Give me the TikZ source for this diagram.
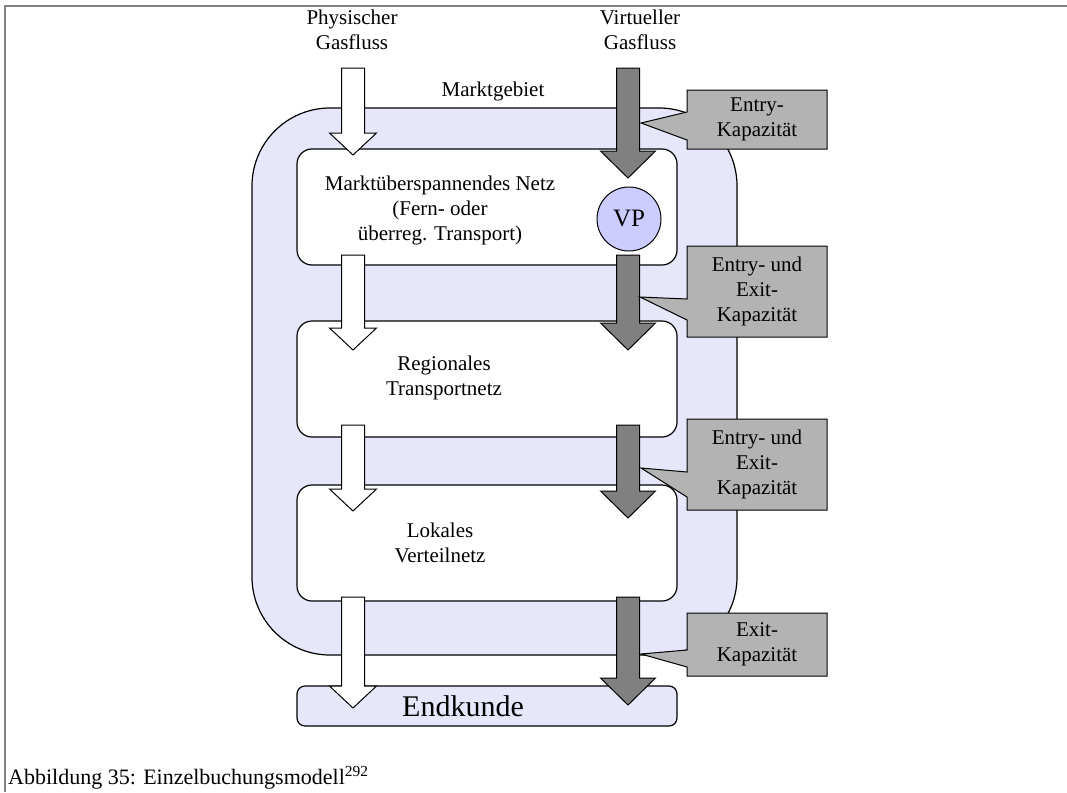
\documentclass[tikz,border=0pt]{standalone}
\usepackage{fontspec}
\setmainfont{Liberation Serif}
\definecolor{marketfill}{RGB}{231,231,252}
\definecolor{vpfill}{RGB}{204,204,255}
\definecolor{virtgray}{RGB}{128,128,128}
\definecolor{calloutgray}{RGB}{179,179,179}
\definecolor{framegray}{RGB}{128,128,128}
% block arrows: name, x of axis, top of shaft, tip
\newcommand{\physarrow}[4]{%
  \draw[physstyle] (#2-11.5,#3) -- (#2+11.5,#3) -- (#2+11.5,#4-22) -- (#2+23.5,#4-22)
    -- (#2,#4) -- (#2-23.5,#4-22) -- (#2-11.5,#4-22) -- cycle;
  \coordinate (#1) at (#2,#4);}
\newcommand{\virtarrow}[4]{%
  \draw[virtstyle] (#2-11.5,#3) -- (#2+11.5,#3) -- (#2+11.5,#4-27) -- (#2+27.5,#4-27)
    -- (#2,#4) -- (#2-27.5,#4-27) -- (#2-11.5,#4-27) -- cycle;
  \coordinate (#1) at (#2,#4);}
% callout box with a wedge pointing left: name, top, bottom, wedge top, wedge bottom, tip
\newcommand{\capbox}[6]{%
  \coordinate (#1-tip) at #6;
  \draw[calloutstyle] (687,#2) -- (827,#2) -- (827,#3) -- (687,#3) -- (687,#5)
    -- (#1-tip) -- (687,#4) -- cycle;
  \coordinate (#1) at (757,{(#2+#3)/2});}
\begin{document}
\begin{tikzpicture}[x=1pt,y=-1pt,
  market/.style={draw=black, fill=marketfill, line width=1.2pt, rounded corners=78pt},
  netbox/.style={draw=black, fill=white, line width=1.2pt, rounded corners=15pt,
    minimum width=380pt, minimum height=116pt, inner sep=0pt},
  physstyle/.style={draw=black, fill=white, line width=1pt, line join=miter},
  virtstyle/.style={draw=black, fill=virtgray, line width=1pt, line join=miter},
  calloutstyle/.style={draw=black, fill=calloutgray, line width=1pt},
  txt/.style={font=\fontsize{21}{25}\selectfont, align=center, inner sep=0pt},
]
\useasboundingbox (0,0) rectangle (1067,792);
% page frame
\draw[framegray, line width=2pt] (4.5,792) -- (4.5,6.5) -- (1067,6.5);

% market area
\node[market, minimum width=485pt, minimum height=547pt, inner sep=0pt] (markt) at (494.5,381.5) {};

% network levels
\node[netbox] (net1) at (487,207) {};
\node[netbox] (net2) at (487,379) {};
\node[netbox] (net3) at (487,543) {};
\node[draw=black, fill=marketfill, line width=1.2pt, rounded corners=8pt,
  minimum width=380pt, minimum height=40pt, inner sep=0pt] (kunde) at (487,706) {};
\node[draw=black, fill=vpfill, line width=1pt, circle, minimum size=64pt, inner sep=0pt,
  font=\fontsize{25}{30}\selectfont] (vp) at (629,219) {VP};

% gas flows
\physarrow{p1}{353}{68}{155}
\virtarrow{v1}{628}{68}{178}
\physarrow{p2}{353}{255}{350}
\virtarrow{v2}{628}{255}{350}
\physarrow{p3}{353}{425}{511}
\virtarrow{v3}{628}{425}{518}
\physarrow{p4}{353}{597}{708}
\virtarrow{v4}{628}{597}{705}

% capacity callouts
\capbox{c1}{90}{149}{112}{140}{(641,123)}
\capbox{c2}{246}{337}{299}{320}{(640,297)}
\capbox{c3}{419}{510}{472}{497}{(641,468)}
\capbox{c4}{613}{676}{650}{667}{(641,654)}

% labels
\node[txt] (phys) at (352,30) {Physischer\\Gasfluss};
\node[txt] (virt) at (640,30) {Virtueller\\Gasfluss};
\node[txt] (mlabel) at (493,91) {Marktgebiet};
\node[txt] (t1) at (440,210) {Marktüberspannendes Netz\\(Fern- oder\\überreg. Transport)};
\node[txt] (t2) at (444,378) {Regionales\\Transportnetz};
\node[txt] (t3) at (440,543) {Lokales\\Verteilnetz};
\node[font=\fontsize{30}{36}\selectfont, inner sep=0pt] (t4) at (463,706) {Endkunde};
\node[txt] at (c1) {Entry-\\Kapazität};
\node[txt] at (c2) {Entry- und\\Exit-\\Kapazität};
\node[txt] at (c3) {Entry- und\\Exit-\\Kapazität};
\node[txt] at (c4) {Exit-\\Kapazität};

% caption
\node[anchor=base west, inner sep=0pt, font=\fontsize{22}{27}\selectfont] (cap) at (8,784)
  {Abbildung 35: Einzelbuchungsmodell\textsuperscript{292}};
\end{tikzpicture}
\end{document}
